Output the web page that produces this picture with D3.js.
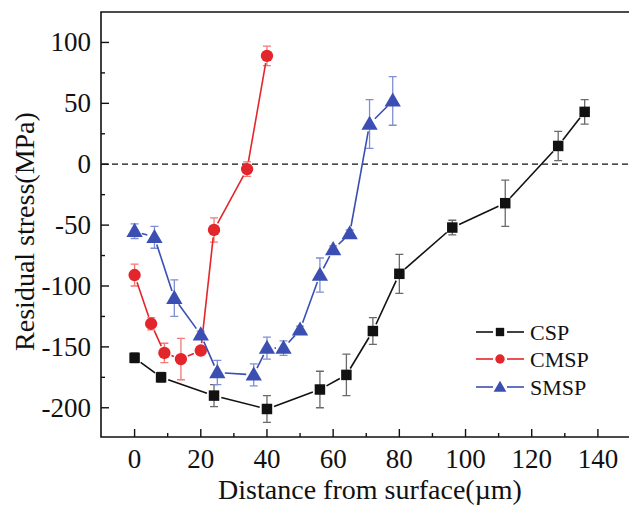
<!DOCTYPE html>
<html>
<head>
<meta charset="utf-8">
<script src="https://cdn.jsdelivr.net/npm/d3@7"></script>
<style>
  html, body { margin: 0; padding: 0; background: #fff; }
  svg { display: block; }
</style>
</head>
<body>
<svg id="chart" width="629" height="513"></svg>
<script>
// Residual stress profiles (MPa) versus depth below the surface (µm)
const seriesNames = ["CSP", "CMSP", "SMSP"];

const cspDepth  = [0, 8, 24, 40, 56, 64, 72, 80, 96, 112, 128, 136];
const cspStress = [-159, -175, -190, -201, -185, -173, -137, -90, -52, -32, 15, 43];
const cspError  = [4, 4, 9, 11, 15, 17, 11, 16, 6, 19, 12, 10];

const cmspDepth  = [0, 5, 9, 14, 20, 24, 34, 40];
const cmspStress = [-91, -131, -155, -160, -153, -54, -4, 89];
const cmspError  = [9, 5, 8, 17, 3, 10, 6, 8];

const smspDepth  = [0, 6, 12, 20, 25, 36, 40, 45, 50, 56, 60, 65, 71, 78];
const smspStress = [-55, -60, -110, -140, -171, -173, -151, -151, -136, -91, -70, -57, 33, 52];
const smspError  = [6, 9, 15, 3, 10, 9, 9, 6, 3, 14, 3, 3, 20, 20];

const xTicks = [0, 20, 40, 60, 80, 100, 120, 140];
const yTicks = [-200, -150, -100, -50, 0, 50, 100];

const colors    = { CSP: "#111111", CMSP: "#e3262b", SMSP: "#3b4fb3" };
const errColors = { CSP: "#6a6a6a", CMSP: "#f07a78", SMSP: "#7f8fd6" };
const symbols   = { CSP: d3.symbolSquare, CMSP: d3.symbolCircle, SMSP: d3.symbolTriangle };

const series = [
  { name: "CSP",  x: cspDepth,  y: cspStress,  e: cspError },
  { name: "CMSP", x: cmspDepth, y: cmspStress, e: cmspError },
  { name: "SMSP", x: smspDepth, y: smspStress, e: smspError }
];

const FONT = "'Liberation Serif'";

const svg = d3.select("#chart");
const plotL = 101, plotT = 12, plotR = 631, plotB = 437;

const x = d3.scaleLinear().domain([-10, 150]).range([plotL + 0.5, plotR]);
const y = d3.scaleLinear().domain([-224, 125]).range([plotB, plotT]);

function label(sel) {
  sel.style("font-family", FONT).attr("fill", "#111");
}

// Frame: left, bottom and top edges
svg.append("path")
  .attr("d", `M${plotR},${plotT}H${plotL}V${plotB}H${plotR}`)
  .attr("fill", "none").attr("stroke", "#111").attr("stroke-width", 1.6);

// Inward ticks with minor subdivisions
const xMinor = d3.range(-10, 151, 10).filter(v => !xTicks.includes(v) && v > -10);
const yMinor = d3.range(-225, 126, 25).filter(v => !yTicks.includes(v) && v > -224 && v < 125);

const ax = svg.append("g");
ax.selectAll(".xt").data(xTicks).join("line")
  .attr("x1", d => x(d)).attr("x2", d => x(d))
  .attr("y1", plotB).attr("y2", plotB - 8)
  .attr("stroke", "#111").attr("stroke-width", 1.4);
ax.selectAll(".xm").data(xMinor).join("line")
  .attr("x1", d => x(d)).attr("x2", d => x(d))
  .attr("y1", plotB).attr("y2", plotB - 4)
  .attr("stroke", "#111").attr("stroke-width", 1.4);
ax.selectAll(".yt").data(yTicks).join("line")
  .attr("x1", plotL).attr("x2", plotL + 8)
  .attr("y1", d => y(d)).attr("y2", d => y(d))
  .attr("stroke", "#111").attr("stroke-width", 1.4);
ax.selectAll(".ym").data(yMinor).join("line")
  .attr("x1", plotL).attr("x2", plotL + 4)
  .attr("y1", d => y(d)).attr("y2", d => y(d))
  .attr("stroke", "#111").attr("stroke-width", 1.4);

// Tick labels
ax.selectAll(".xl").data(xTicks).join("text")
  .call(label)
  .attr("x", d => x(d)).attr("y", 468)
  .attr("text-anchor", "middle").attr("font-size", 27)
  .text(d => d);
ax.selectAll(".yl").data(yTicks).join("text")
  .call(label)
  .attr("x", 91).attr("y", d => y(d) + 9)
  .attr("text-anchor", "end").attr("font-size", 27)
  .text(d => d);

// Axis titles
svg.append("text").call(label)
  .attr("x", (plotL + plotR) / 2 + 4).attr("y", 499)
  .attr("text-anchor", "middle").attr("font-size", 28)
  .text("Distance from surface(µm)");
svg.append("text").call(label)
  .attr("transform", `translate(34,${(plotT + plotB) / 2 + 7}) rotate(-90)`)
  .attr("text-anchor", "middle").attr("font-size", 28)
  .text("Residual stress(MPa)");

// Zero reference line
svg.append("line")
  .attr("x1", plotL + 1).attr("x2", plotR)
  .attr("y1", y(0)).attr("y2", y(0))
  .attr("stroke", "#111").attr("stroke-width", 1.3)
  .attr("stroke-dasharray", "6,4");

const symbolSize = { CSP: 110, CMSP: 120, SMSP: 115 };
const gap = 7.5;

series.forEach(s => {
  const pts = s.x.map((v, i) => ({ px: x(v), py: y(s.y[i]), e: s.e[i], v: s.y[i] }));
  const g = svg.append("g");

  // Error bars with caps
  pts.forEach((p, i) => {
    const yt = y(s.y[i] + p.e), yb = y(s.y[i] - p.e);
    g.append("path")
      .attr("d", `M${p.px},${yt}V${yb}M${p.px - 4},${yt}H${p.px + 4}M${p.px - 4},${yb}H${p.px + 4}`)
      .attr("fill", "none").attr("stroke", errColors[s.name]).attr("stroke-width", 1.3);
  });

  // Connecting segments, kept clear of the symbols
  for (let i = 0; i < pts.length - 1; i++) {
    const a = pts[i], b = pts[i + 1];
    const dx = b.px - a.px, dy = b.py - a.py, len = Math.hypot(dx, dy);
    if (len <= 2 * gap) continue;
    const ux = dx / len, uy = dy / len;
    g.append("line")
      .attr("x1", a.px + ux * gap).attr("y1", a.py + uy * gap)
      .attr("x2", b.px - ux * gap).attr("y2", b.py - uy * gap)
      .attr("stroke", colors[s.name]).attr("stroke-width", 1.6);
  }

  // Symbols
  const sym = d3.symbol().type(symbols[s.name]).size(symbolSize[s.name]);
  g.selectAll(".pt").data(pts).join("path")
    .attr("transform", d => `translate(${d.px},${d.py + (s.name === "SMSP" ? 1 : 0)})`)
    .attr("d", sym)
    .attr("fill", colors[s.name]);
});

// Legend
const legendY = [332, 359, 387];
series.forEach((s, i) => {
  const ly = legendY[i];
  const lg = svg.append("g");
  lg.append("line").attr("x1", 476).attr("x2", 493).attr("y1", ly).attr("y2", ly)
    .attr("stroke", colors[s.name]).attr("stroke-width", 1.6);
  lg.append("line").attr("x1", 507).attr("x2", 524).attr("y1", ly).attr("y2", ly)
    .attr("stroke", colors[s.name]).attr("stroke-width", 1.6);
  lg.append("path")
    .attr("transform", `translate(500,${ly + (s.name === "SMSP" ? 1 : 0)})`)
    .attr("d", d3.symbol().type(symbols[s.name]).size(70)())
    .attr("fill", colors[s.name]);
  lg.append("text").call(label)
    .attr("x", 530).attr("y", ly + 8)
    .attr("font-size", 22).text(s.name);
});
</script>
</body>
</html>
